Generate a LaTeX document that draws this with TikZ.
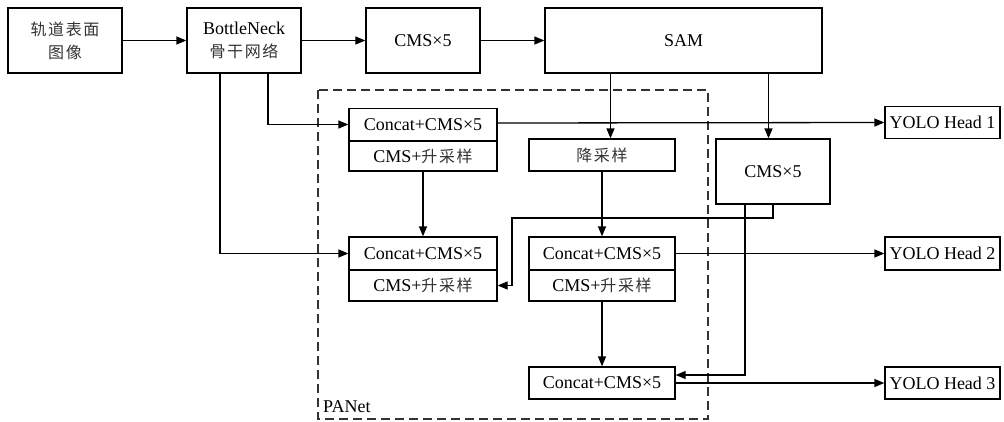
\documentclass[tikz,border=0pt]{standalone}
\usepackage{fontspec}
\setmainfont{Liberation Serif}
\newfontfamily\cjkfont[LetterSpace=10]{Noto Sans CJK SC}
\newcommand{\cjk}{\cjkfont\fontsize{16}{23}\selectfont\color{black!80}}
\usetikzlibrary{arrows.meta,calc}
\begin{document}
\begin{tikzpicture}[x=1pt,y=-1pt,
  box/.style={draw,line width=1.3pt,inner sep=0pt,align=center,font=\fontsize{18}{23}\selectfont},
  big/.style={box,minimum width=114pt,minimum height=65pt},
  half/.style={box,minimum width=148pt,minimum height=32pt},
  yolo/.style={box,minimum width=115pt,minimum height=32pt},
  arr/.style={line width=1.3pt,-{Triangle[length=10pt,width=8pt]}},
  panet/.style={draw=black!80,line width=1.3pt,dash pattern=on 9pt off 5pt}]
\useasboundingbox (0,0) rectangle (1004,421);
% PANet frame
\draw[panet] (318,90) rectangle (708,419);
\node[anchor=base west,font=\fontsize{18}{22}\selectfont,inner sep=0pt] (lbl) at (323,412) {PANet};
% top row
\node[big] (A) at (65,40.5) {{\cjk 轨道表面}\\{\cjk 图像}};
\node[big] (B) at (244,40.5) {BottleNeck\\{\cjk 骨干网络}};
\node[big] (C) at (423,40.5) {CMS×5};
\node[box,minimum width=277pt,minimum height=65pt] (SAM) at (683.5,40.5) {SAM};
% PANet blocks
\node[half] (c1) at (423,124.5) {Concat+CMS×5};
\node[half,minimum height=30pt] (u1) at (423,156) {CMS+{\cjk 升采样}};
\node[half,minimum width=146pt] (d1) at (602,155) {{\cjk 降采样}};
\node[big] (cr) at (773,171.5) {CMS×5};
\node[half,minimum height=33pt] (c2) at (423,253.5) {Concat+CMS×5};
\node[half,minimum height=31pt] (u2) at (423,285.5) {CMS+{\cjk 升采样}};
\node[half,minimum width=146pt,minimum height=33pt] (c3) at (602,253.5) {Concat+CMS×5};
\node[half,minimum width=146pt,minimum height=31pt] (u3) at (602,285.5) {CMS+{\cjk 升采样}};
\node[half,minimum width=146pt] (c4) at (602,383) {Concat+CMS×5};
% heads
\node[yolo] (Y1) at (942.5,122.5) {YOLO Head 1};
\node[yolo,minimum height=33pt] (Y2) at (942.5,253.5) {YOLO Head 2};
\node[yolo] (Y3) at (942.5,383) {YOLO Head 3};
% connectors
\draw[arr] (A) -- (B);
\draw[arr] (B) -- (C);
\draw[arr] (C) -- (SAM);
\draw[arr] ([xshift=24pt]B.south) |- (c1.west);
\draw[arr] ([xshift=-24pt]B.south) |- (c2.west);
\draw[arr] ([xshift=-73pt]SAM.south) -- ([xshift=-73pt]SAM.south |- d1.north);
\draw[arr] ([xshift=85pt]SAM.south) -- ([xshift=85pt]SAM.south |- cr.north);
\draw[arr] ([yshift=1.5pt]c1.east) -- (Y1.west);
\draw[arr] (u1) -- (c2);
\draw[arr] (d1) -- (c3);
\draw[arr] (u3) -- (c4);
\coordinate (k1) at (512,218);
\draw[arr] (cr.south) |- (k1) |- (u2.east);
\draw[arr] ([xshift=-28pt]cr.south) |- ([yshift=8pt]c4.east);
\draw[arr] (c3) -- (Y2);
\draw[arr] (c4) -- (Y3);
\end{tikzpicture}
\end{document}
